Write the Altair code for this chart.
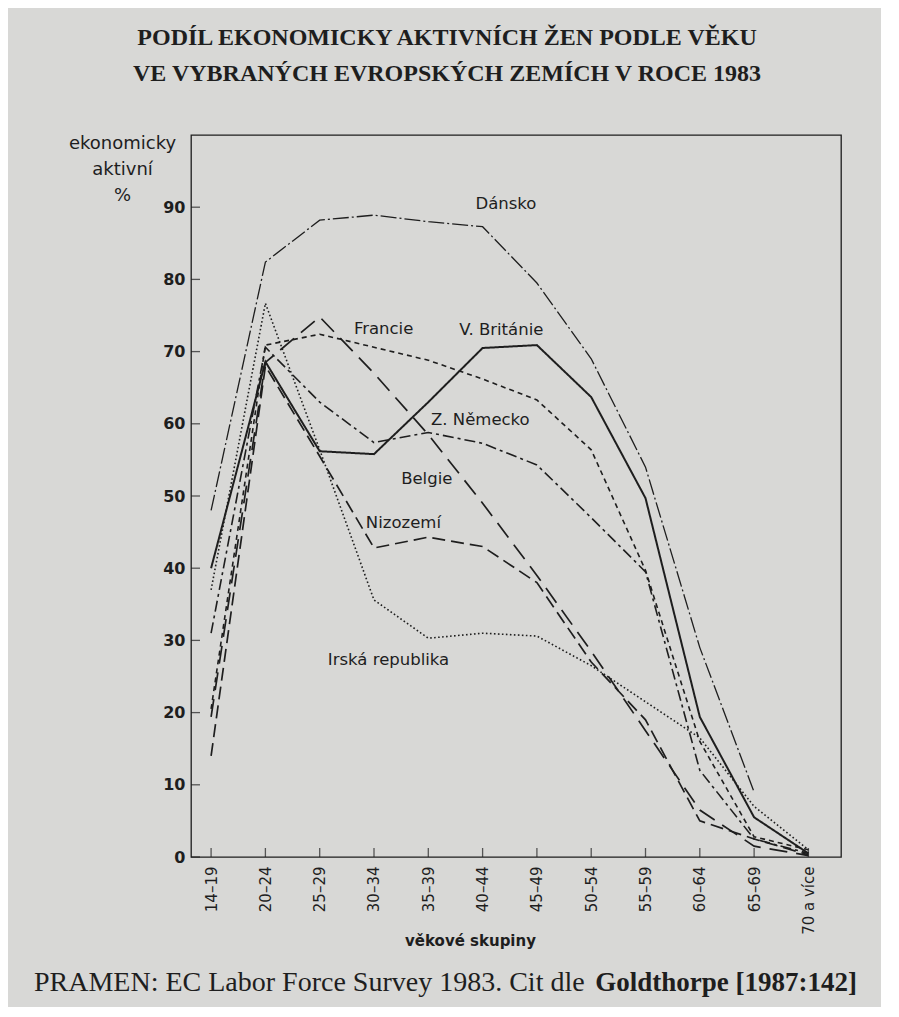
import altair as alt
import pandas as pd

ages = ["14–19", "20–24", "25–29", "30–34", "35–39", "40–44", "45–49",
        "50–54", "55–59", "60–64", "65–69", "70 a více"]
countries = ["Dánsko", "V. Británie", "Francie", "Z. Německo", "Belgie",
             "Nizozemí", "Irská republika"]

dansko = [48.0, 82.4, 88.2, 88.9, 88.0, 87.3, 79.5, 69.0, 54.0, 29.0, 9.0, None]
britanie = [40.0, 68.6, 56.2, 55.8, 63.0, 70.5, 70.9, 63.7, 49.7, 19.4, 5.5, 0.5]
francie = [20.5, 70.9, 72.4, 70.6, 68.8, 66.2, 63.3, 56.4, 39.7, 16.0, 2.8, 1.0]
nemecko = [31.0, 70.6, 63.0, 57.4, 58.8, 57.3, 54.3, 47.0, 39.5, 12.0, 2.5, 0.5]
belgie = [19.4, 68.5, 74.8, 67.0, 58.5, 49.0, 39.0, 28.5, 17.5, 6.5, 1.5, 0.2]
nizozemi = [14.0, 68.0, 55.5, 42.8, 44.3, 43.0, 38.0, 27.0, 19.0, 5.0, 2.5, 0.3]
irsko = [37.0, 76.7, 56.4, 35.6, 30.3, 31.0, 30.6, 26.5, 21.5, 16.5, 7.0, 1.0]

series = [dansko, britanie, francie, nemecko, belgie, nizozemi, irsko]

# label anchors (data units: age index, percent)
label_x = [5.43, 4.57, 2.63, 4.05, 3.50, 2.85, 2.15]
label_y = [90.4, 73.0, 73.1, 60.5, 52.4, 46.3, 27.3]
label_align = ["center", "left", "left", "left", "left", "left", "left"]

y_ticks = [0, 10, 20, 30, 40, 50, 60, 70, 80, 90]

title_lines = ["PODÍL EKONOMICKY AKTIVNÍCH ŽEN PODLE VĚKU",
               "VE VYBRANÝCH EVROPSKÝCH ZEMÍCH V ROCE 1983"]
source_text = "PRAMEN: EC Labor Force Survey 1983. Cit dle"
source_bold = "Goldthorpe [1987:142]"

rows = []
for c, vals in zip(countries, series):
    for i, v in enumerate(vals):
        if v is not None:
            rows.append({"country": c, "idx": i, "age": ages[i], "value": v})
df = pd.DataFrame(rows)

styles = {
    "Dánsko": ([16, 3, 2, 3], 1.3),
    "V. Británie": ([1, 0], 2.0),
    "Francie": ([5, 4], 1.6),
    "Z. Německo": ([11, 4, 3, 4], 1.6),
    "Belgie": ([18, 9], 1.7),
    "Nizozemí": ([13, 6], 1.7),
    "Irská republika": ([1.6, 2.4], 1.6),
}

INK = "#1e1e1e"
SANS = "DejaVu Sans"
SERIF = "Liberation Serif"
XDOM = [-0.37, 11.6]

xscale = alt.Scale(domain=XDOM, nice=False, zero=False)
yscale = alt.Scale(domain=[0, 100], nice=False)

label_expr = "[" + ",".join("'" + a + "'" for a in ages) + "][datum.value]"

xaxis = alt.Axis(values=list(range(len(ages))), labelExpr=label_expr, labelAngle=-90,
                 labelAlign="right", labelBaseline="middle", labelPadding=9,
                 labelFont=SANS, labelFontSize=15, labelColor=INK, ticks=False,
                 domain=False, grid=False, title="věkové skupiny", titleFont=SANS,
                 titleFontSize=15, titleFontWeight="bold", titleColor=INK,
                 titleX=279, titleY=83, titleBaseline="middle", titleAlign="center")
yaxis = alt.Axis(values=y_ticks, labelFont=SANS, labelFontSize=16, labelFontWeight="bold",
                 labelColor=INK, labelPadding=6, ticks=False, domain=False, grid=False,
                 title=["ekonomicky", "aktivní", "%"], titleAngle=0, titleFont=SANS,
                 titleFontSize=18, titleFontWeight="normal", titleColor=INK,
                 titleAlign="center", titleBaseline="middle", titleX=-69, titleY=8,
                 titleLineHeight=26)


def X(field):
    return alt.X(field, scale=xscale, axis=xaxis)


def Y(field):
    return alt.Y(field, scale=yscale, axis=yaxis)


layers = []
for c in countries:
    dash, w = styles[c]
    layers.append(
        alt.Chart(df).transform_filter(alt.datum.country == c)
        .mark_line(color=INK, strokeDash=dash, strokeWidth=w, clip=True)
        .encode(x=X("idx:Q"), y=Y("value:Q"))
    )

lab_df = pd.DataFrame({"label": countries, "lx": label_x, "ly": label_y, "al": label_align})
for al in ["center", "left"]:
    layers.append(
        alt.Chart(lab_df).transform_filter(alt.datum.al == al)
        .mark_text(align=al, baseline="middle", font=SANS, fontSize=16.5, color=INK)
        .encode(x=X("lx:Q"), y=Y("ly:Q"), text="label:N")
    )

ytick_df = pd.DataFrame({"v": y_ticks, "x0": [XDOM[0]] * len(y_ticks)})
layers.append(
    alt.Chart(ytick_df).mark_tick(orient="horizontal", size=9, thickness=1.3, color=INK, xOffset=4.5)
    .encode(x=X("x0:Q"), y=Y("v:Q"))
)
xtick_df = pd.DataFrame({"i": list(range(len(ages))), "y0": [0] * len(ages)})
layers.append(
    alt.Chart(xtick_df).mark_tick(orient="vertical", size=9, thickness=1.3, color=INK, yOffset=-4.5)
    .encode(x=X("i:Q"), y=Y("y0:Q"))
)

src_df = pd.DataFrame({"t1": [source_text], "t2": [source_bold]})
layers.append(
    alt.Chart(src_df).mark_text(align="left", baseline="alphabetic", font=SERIF, fontSize=28,
                                color=INK)
    .encode(x=alt.value(-157), y=alt.value(856), text="t1:N")
)
layers.append(
    alt.Chart(src_df).mark_text(align="right", baseline="alphabetic", font=SERIF, fontSize=27,
                                fontWeight="bold", color=INK)
    .encode(x=alt.value(666), y=alt.value(856), text="t2:N")
)

chart = alt.layer(*layers).properties(
    width=650, height=722,
    autosize=alt.AutoSizeParams(type="none"),
    padding={"left": 183, "top": 127, "right": 40, "bottom": 150},
    background="#d8d8d6",
    title=alt.TitleParams(text=title_lines, anchor="middle", frame="group", dx=-69,
                          font=SERIF, fontSize=24, fontWeight="bold", color=INK,
                          lineHeight=36, offset=48),
).configure_view(stroke=INK, strokeWidth=1.3)

chart.save("out.html", embed_options={"renderer": "svg", "actions": False})
